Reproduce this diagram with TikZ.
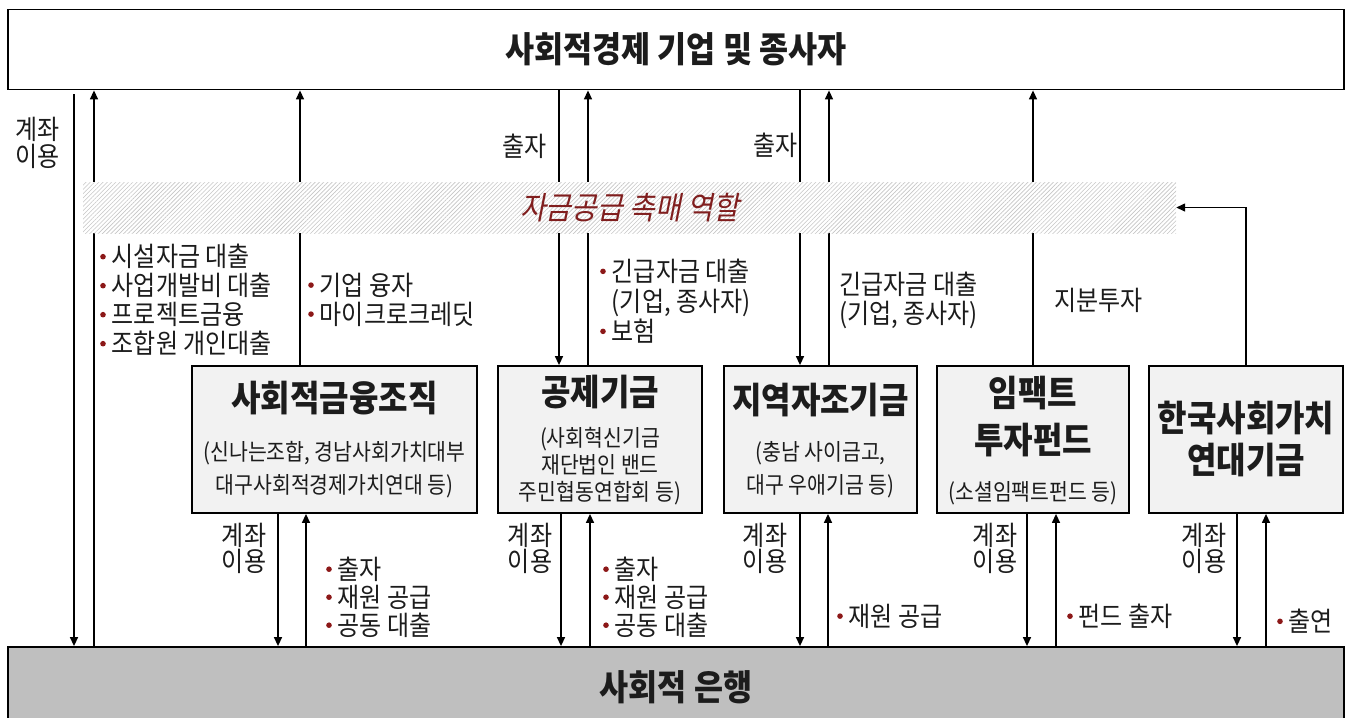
\documentclass[tikz,border=0pt]{standalone}
\usepackage{fontspec}
\setmainfont{Noto Sans CJK KR}[FakeStretch=0.89]
\newfontfamily\slantfont{Noto Sans CJK KR}[FakeStretch=0.89,FakeSlant=0.2]
\usetikzlibrary{arrows.meta, patterns.meta}

\definecolor{bulred}{RGB}{140,24,24}
\definecolor{rolered}{RGB}{128,30,30}
\definecolor{boxgray}{RGB}{242,242,242}
\definecolor{bankgray}{RGB}{191,191,191}
\definecolor{ink}{RGB}{28,28,28}

\newcommand{\bul}{\tikz[baseline=-0.37em]\fill[bulred] (0,0) circle (2.8pt);\hspace{6pt}}
\newcommand{\lblsize}{\fontsize{27}{29}\selectfont}

\begin{document}
\begin{tikzpicture}[x=1pt,y=-1pt,
    arr/.style={-{Triangle[length=9pt,width=8pt]},line width=1.4pt},
    bigbox/.style={draw,line width=1.8pt,inner sep=0pt,text=ink,
      font=\fontsize{35.5}{40}\selectfont\bfseries},
    box/.style={draw,line width=1.8pt,fill=boxgray,inner sep=0pt},
    ttl/.style={inner sep=0pt,text=ink,align=center,
      font=\fontsize{36}{44}\selectfont\bfseries},
    sub/.style={inner sep=0pt,text=ink,align=center,
      font=\fontsize{23}{33}\selectfont},
    lbl/.style={inner sep=0pt,text=ink,font=\lblsize},
    band/.style={inner sep=0pt,minimum width=1093,minimum height=51,fill=white,
      postaction={pattern={Lines[angle=45,distance=3pt,line width=0.6pt]},pattern color=gray!45},
      text=rolered,font=\slantfont\fontsize{31.5}{34}\selectfont}]
  \useasboundingbox (0,0) rectangle (1353,718);

  % top and bottom
  \node[bigbox,fill=white,minimum width=1336,minimum height=80] (ent) at (676,49.5) {사회적경제 기업 및 종사자};
  \node[bigbox,fill=bankgray,minimum width=1336,minimum height=80] (bank) at (676,687) {사회적 은행};

  % middle boxes
  \node[box,minimum width=285,minimum height=147] (sfo) at (334.5,439.5) {};
  \node[box,minimum width=204,minimum height=147] (mut) at (600,439.5) {};
  \node[box,minimum width=193,minimum height=147] (self) at (820.5,439.5) {};
  \node[box,minimum width=192,minimum height=147] (imp) at (1033,439.5) {};
  \node[box,minimum width=194,minimum height=147] (sol) at (1246,439.5) {};

  \node[ttl] (sfo-t) at (334.5,398) {사회적금융조직};
  \node[sub] (sfo-s) at (334.5,470) {(신나는조합, 경남사회가치대부\\대구사회적경제가치연대 등)};
  \node[ttl] (mut-t) at (600,392) {공제기금};
  \node[sub,font=\fontsize{23}{27}\selectfont] (mut-s) at (600,466) {(사회혁신기금\\재단법인 밴드\\주민협동연합회 등)};
  \node[ttl] (self-t) at (820.5,400) {지역자조기금};
  \node[sub] (self-s) at (820.5,470) {(충남 사이금고,\\대구 우애기금 등)};
  \node[ttl,font=\fontsize{36}{47}\selectfont\bfseries] (imp-t) at (1033,416.5) {임팩트\\투자펀드};
  \node[sub] (imp-s) at (1033,493) {(소셜임팩트펀드 등)};
  \node[ttl,font=\fontsize{36}{42}\selectfont\bfseries] (sol-t) at (1246,439) {한국사회가치\\연대기금};

  % upper flows
  \coordinate (acc0) at (74,94);
  \draw[arr] (acc0) -- (bank.north -| acc0);
  \draw[arr] (bank.north -| 94,0) -- (ent.south -| 94,0);
  \draw[arr] (sfo.north -| 300,0) -- (ent.south -| 300,0);
  \draw[arr] (ent.south -| 559,0) -- (mut.north -| 559,0);
  \draw[arr] (mut.north -| 588,0) -- (ent.south -| 588,0);
  \draw[arr] (ent.south -| 800,0) -- (self.north -| 800,0);
  \draw[arr] (self.north -| 829,0) -- (ent.south -| 829,0);
  \draw[arr] (imp.north) -- (imp.north |- ent.south);

  \node[band] (role) at (629.5,207.5) {자금공급 촉매 역할};
  \draw[arr] (sol.north) |- (role.east);

  % lower flows
  \draw[arr] (sfo.south -| 278,0) -- (bank.north -| 278,0);
  \draw[arr] (bank.north -| 306,0) -- (sfo.south -| 306,0);
  \draw[arr] (mut.south -| 561,0) -- (bank.north -| 561,0);
  \draw[arr] (bank.north -| 590,0) -- (mut.south -| 590,0);
  \draw[arr] (self.south -| 800,0) -- (bank.north -| 800,0);
  \draw[arr] (bank.north -| 828,0) -- (self.south -| 828,0);
  \draw[arr] (imp.south -| 1027,0) -- (bank.north -| 1027,0);
  \draw[arr] (bank.north -| 1056,0) -- (imp.south -| 1056,0);
  \draw[arr] (sol.south -| 1237,0) -- (bank.north -| 1237,0);
  \draw[arr] (bank.north -| 1266,0) -- (sol.south -| 1266,0);

  % labels
  \node[lbl,align=center,font=\fontsize{27}{27}\selectfont] (acc-l) at (38,143) {계좌\\이용};
  \node[lbl,align=left,anchor=west] (loan-a) at (100,300) {\bul 시설자금 대출\\\bul 사업개발비 대출\\\bul 프로젝트금융\\\bul 조합원 개인대출};
  \node[lbl,align=left,anchor=west] (loan-b) at (308,299.5) {\bul 기업 융자\\\bul 마이크로크레딧};
  \node[lbl,anchor=east] (inv-a) at (547,146) {출자};
  \node[lbl,align=left,anchor=west,font=\fontsize{27}{30}\selectfont] (loan-c) at (600,301) {\bul 긴급자금 대출\\\hphantom{\bul}(기업, 종사자)\\\bul 보험};
  \node[lbl,anchor=east] (inv-b) at (798,145) {출자};
  \node[lbl,align=left,anchor=west] (loan-d) at (839,300) {긴급자금 대출\\(기업, 종사자)};
  \node[lbl,anchor=west] (eq) at (1054,300) {지분투자};

  \node[lbl,align=center,font=\fontsize{27}{26}\selectfont] (acc-1) at (244,548) {계좌\\이용};
  \node[lbl,align=center,font=\fontsize{27}{26}\selectfont] (acc-2) at (530,548) {계좌\\이용};
  \node[lbl,align=center,font=\fontsize{27}{26}\selectfont] (acc-3) at (765,548) {계좌\\이용};
  \node[lbl,align=center,font=\fontsize{27}{26}\selectfont] (acc-4) at (995,548) {계좌\\이용};
  \node[lbl,align=center,font=\fontsize{27}{26}\selectfont] (acc-5) at (1204,548) {계좌\\이용};
  \node[lbl,align=left,anchor=west,font=\fontsize{27}{28}\selectfont] (fund-1) at (326,597) {\bul 출자\\\bul 재원 공급\\\bul 공동 대출};
  \node[lbl,align=left,anchor=west,font=\fontsize{27}{28}\selectfont] (fund-2) at (603,597) {\bul 출자\\\bul 재원 공급\\\bul 공동 대출};
  \node[lbl,anchor=west] (fund-3) at (837,616) {\bul 재원 공급};
  \node[lbl,anchor=west] (fund-4) at (1067,616) {\bul 펀드 출자};
  \node[lbl,anchor=west] (fund-5) at (1277,621) {\bul 출연};
\end{tikzpicture}
\end{document}
